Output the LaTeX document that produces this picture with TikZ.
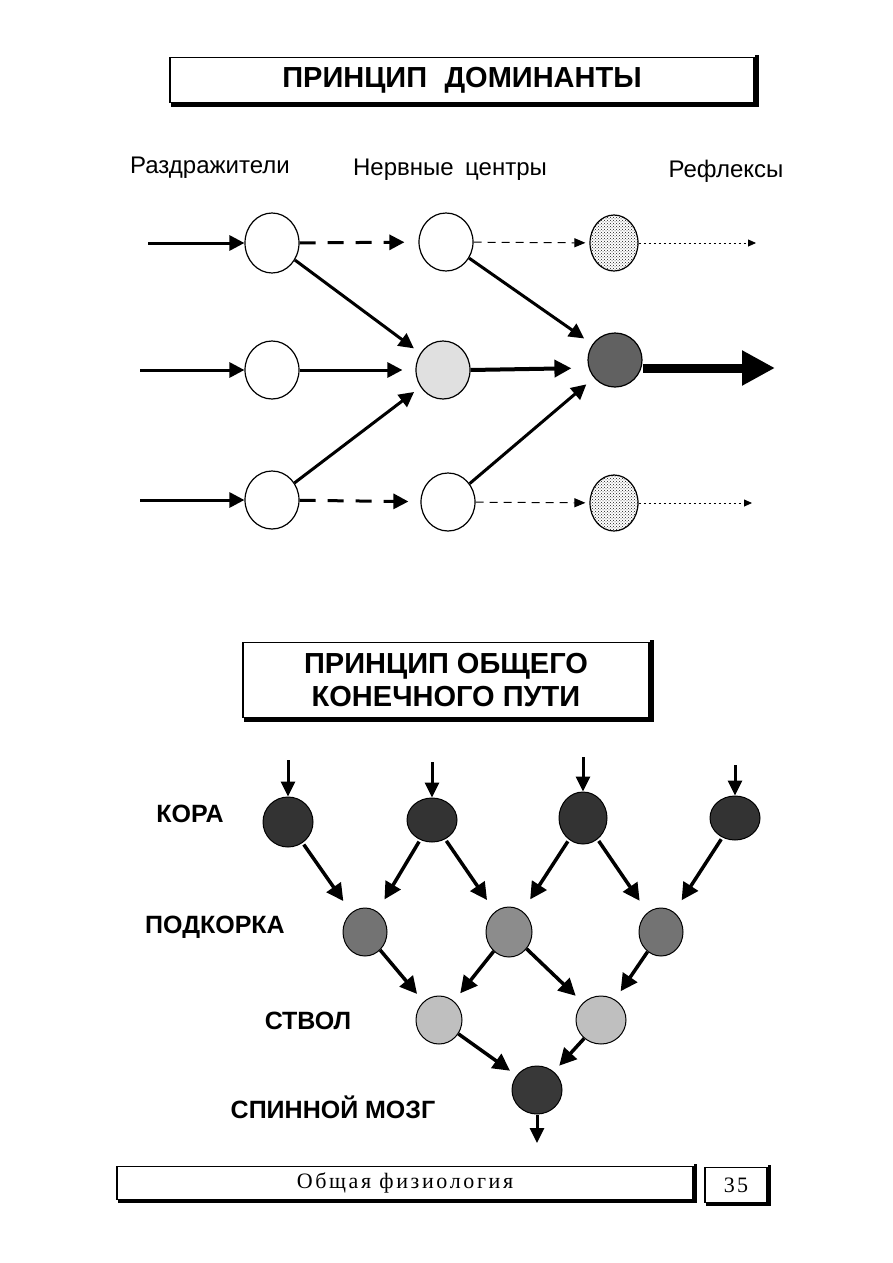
\documentclass[tikz,border=0pt]{standalone}
\usepackage{fontspec}
\setmainfont{Liberation Sans}
\newfontfamily\footserif{Liberation Serif}[LetterSpace=12]
\newfontfamily\numserif{Liberation Serif}[LetterSpace=10]
\usetikzlibrary{arrows.meta,shapes.geometric,patterns}
\begin{document}
\begin{tikzpicture}[x=1pt,y=-1pt,
  titlebox/.style={draw,line width=1.6pt,inner sep=0pt,font=\fontsize{29}{34}\selectfont\bfseries,align=center},
  shadowline/.style={line width=4pt},
  colhead/.style={font=\fontsize{24}{28}\selectfont},
  lvl/.style={font=\fontsize{25}{29}\selectfont\bfseries,anchor=center},
  cell/.style={draw,ellipse,line width=1.2pt,inner sep=0pt,minimum width=54pt,minimum height=58pt},
  dotcell/.style={draw,ellipse,line width=1.2pt,inner sep=0pt,minimum width=48pt,minimum height=56pt,pattern=crosshatch dots,pattern color=black!90},
  ball/.style={draw,ellipse,line width=1pt,inner sep=0pt},
  thk/.style={line width=3pt,-{Triangle[length=15pt,width=15pt]}},
  thkdash/.style={line width=3pt,dash pattern=on 16pt off 12pt,-{Triangle[length=15pt,width=15pt]}},
  thindash/.style={line width=1pt,dash pattern=on 8pt off 6pt,-{Triangle[length=11pt,width=9pt]}},
  thindot/.style={line width=0.8pt,dash pattern=on 2pt off 3pt,-{Triangle[length=8pt,width=7pt]}},
  big/.style={line width=9pt,-{Triangle[length=33pt,width=33pt]}},
  darr/.style={line width=3.5pt,-{Triangle[length=17pt,width=17pt]}},
  varr/.style={line width=3pt,-{Triangle[length=15pt,width=14pt]}}
]
\useasboundingbox (0,0) rectangle (893,1263);

% ---------- title 1
\node[titlebox,minimum width=584pt,minimum height=45pt] (t1) at (462,80) {ПРИНЦИП\hspace{0.6em}ДОМИНАНТЫ};
\draw[shadowline] ([xshift=2pt,yshift=-2pt]t1.south west) -- ([xshift=2pt,yshift=-2pt]t1.south east) -- ([xshift=2pt,yshift=2pt]t1.north east);

\node[colhead] (h1) at (210,168) {Раздражители};
\node[colhead] (h2) at (450,170) {Нервные\hspace{0.2em} центры};
\node[colhead] (h3) at (726,171) {Рефлексы};

% ---------- top diagram nodes
\node[cell,minimum height=60pt] (a1) at (272,243) {};
\node[cell] (b1) at (446,242) {};
\node[dotcell] (c1) at (614,243) {};
\node[cell] (a2) at (272,370) {};
\node[cell,fill=black!12] (b2) at (443,370) {};
\node[cell,fill=black!62,minimum width=54pt,minimum height=54pt] (c2) at (615,360) {};
\node[cell] (a3) at (272,500) {};
\node[cell] (b3) at (448,502) {};
\node[dotcell] (c3) at (614,503) {};

\coordinate (in1) at (148,243);
\coordinate (in2) at (140,370);
\coordinate (in3) at (140,500);
\coordinate (out1) at (756,243);
\coordinate (out2) at (775,368);
\coordinate (out3) at (752,503);

\draw[thk] (in1) -- (a1);
\draw[thk] (in2) -- (a2);
\draw[thk] (in3) -- (a3);

\draw[thkdash,shorten >=14pt] (a1) -- (b1);
\draw[thk,shorten >=13pt] (a2) -- (b2);
\draw[thkdash,shorten >=12pt] (a3) -- (b3);

\draw[thindash,shorten >=4pt] (b1) -- (c1);
\draw[line width=4pt,-{Triangle[length=17pt,width=17pt]},shorten >=16pt] (b2.east) -- ([yshift=-8pt]c2.west);
\draw[thindash,shorten >=4pt] (b3) -- (c3);

\draw[thindot] (c1.east) -- (out1);
\draw[big] ([yshift=-8pt]c2.east) -- (out2);
\draw[thindot] (c3.east) -- (out3);

\draw[thk,shorten >=8pt] (a1) -- (b2);
\draw[thk,shorten >=10pt] (b1) -- (c2);
\draw[thk,shorten >=8pt] (a3) -- (b2);
\draw[thk,shorten >=10pt] (b3) -- (c2);

% ---------- title 2
\node[titlebox,minimum width=406pt,minimum height=75pt,font=\fontsize{29}{33}\selectfont\bfseries] (t2) at (446,680) {ПРИНЦИП ОБЩЕГО\\КОНЕЧНОГО ПУТИ};
\draw[shadowline] ([xshift=2pt,yshift=-2pt]t2.south west) -- ([xshift=2pt,yshift=-2pt]t2.south east) -- ([xshift=2pt,yshift=2pt]t2.north east);

% ---------- level labels
\node[lvl] (l1) at (190,814) {КОРА};
\node[lvl] (l2) at (215,927) {ПОДКОРКА};
\node[lvl] (l3) at (308,1021) {СТВОЛ};
\node[lvl] (l4) at (333,1107) {СПИННОЙ МОЗГ};

% ---------- bottom diagram nodes
\node[ball,fill=black!80,minimum width=50pt,minimum height=50pt] (k1) at (288,822) {};
\node[ball,fill=black!80,minimum width=50pt,minimum height=44pt] (k2) at (432,820) {};
\node[ball,fill=black!80,minimum width=48pt,minimum height=52pt] (k3) at (583,818) {};
\node[ball,fill=black!80,minimum width=50pt,minimum height=44pt] (k4) at (735,818) {};

\node[ball,fill=black!55,minimum width=44pt,minimum height=48pt] (p1) at (365,932) {};
\node[ball,fill=black!45,minimum width=46pt,minimum height=50pt] (p2) at (509,932) {};
\node[ball,fill=black!55,minimum width=44pt,minimum height=48pt] (p3) at (661,932) {};

\node[ball,fill=black!25,minimum width=46pt,minimum height=48pt] (s1) at (439,1020) {};
\node[ball,fill=black!25,minimum width=50pt,minimum height=48pt] (s2) at (601,1020) {};

\node[ball,fill=black!78,minimum width=50pt,minimum height=48pt] (m) at (537,1090) {};

\coordinate (v1) at (288,760);
\coordinate (v2) at (432,762);
\coordinate (v3) at (583,757);
\coordinate (v4) at (735,765);
\coordinate (vout) at (537,1143);

\draw[varr] (v1) -- (k1);
\draw[varr] (v2) -- (k2);
\draw[varr] (v3) -- (k3);
\draw[varr] (v4) -- (k4);

\draw[darr,shorten >=14pt,shorten <=2pt] (k1) -- (p1);
\draw[darr,shorten >=14pt,shorten <=2pt] (k2) -- (p1);
\draw[darr,shorten >=14pt,shorten <=2pt] (k2) -- (p2);
\draw[darr,shorten >=14pt,shorten <=2pt] (k3) -- (p2);
\draw[darr,shorten >=14pt,shorten <=2pt] (k3) -- (p3);
\draw[darr,shorten >=14pt,shorten <=2pt] (k4) -- (p3);

\draw[darr,shorten >=10pt] (p1) -- (s1);
\draw[darr,shorten >=10pt] (p2) -- (s1);
\draw[darr,shorten >=10pt] (p2) -- (s2);
\draw[darr,shorten >=10pt] (p3) -- (s2);

\draw[darr,shorten >=8pt] (s1) -- (m);
\draw[darr,shorten >=8pt] (s2) -- (m);
\draw[varr] (m) -- (vout);

% ---------- footer
\node[draw,line width=1.2pt,minimum width=576pt,minimum height=33pt,inner sep=0pt] (f1) at (405,1183) {\footserif\fontsize{22}{26}\selectfont Общая физиология};
\draw[line width=3pt] ([xshift=1.5pt,yshift=-1.5pt]f1.south west) -- ([xshift=1.5pt,yshift=-1.5pt]f1.south east) -- ([xshift=1.5pt,yshift=1.5pt]f1.north east);
\node[draw,line width=1.2pt,minimum width=62pt,minimum height=35pt,inner sep=0pt] (f2) at (736,1185) {\numserif\fontsize{22}{26}\selectfont 35};
\draw[line width=3pt] ([xshift=1.5pt,yshift=-1.5pt]f2.south west) -- ([xshift=1.5pt,yshift=-1.5pt]f2.south east) -- ([xshift=1.5pt,yshift=1.5pt]f2.north east);
\end{tikzpicture}
\end{document}
